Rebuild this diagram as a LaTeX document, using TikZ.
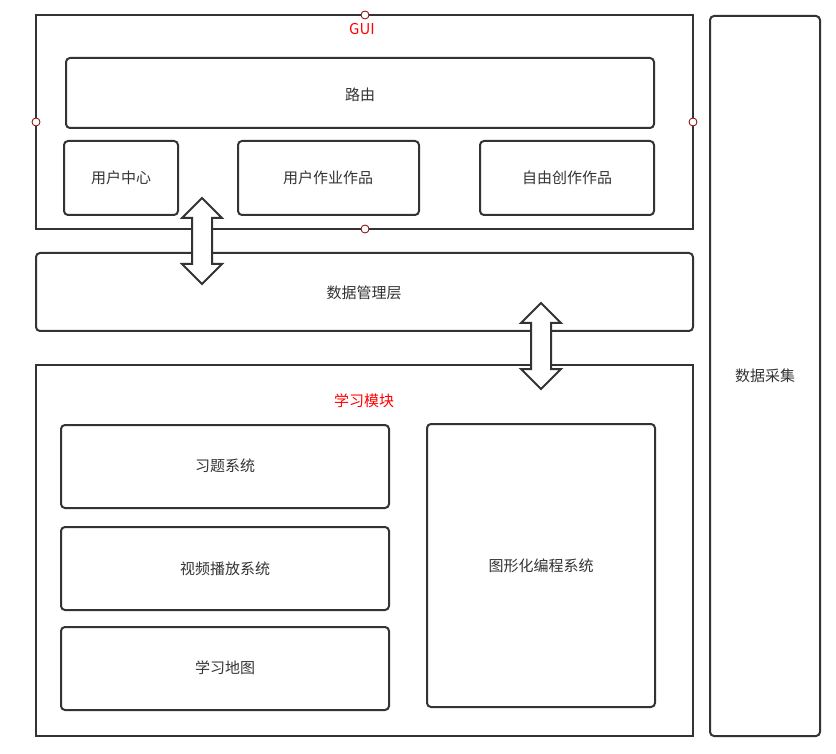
\documentclass[tikz,border=0pt]{standalone}
\usepackage{fontspec}
\setmainfont{Noto Sans CJK SC}
\begin{document}
\begin{tikzpicture}[x=1pt,y=-1pt,
  box/.style={draw=black!80,line width=2pt,rounded corners=4pt},
  sq/.style={draw=black!80,line width=2pt},
  lbl/.style={text=black!80,font=\fontsize{15}{17}\selectfont},
  red/.style={text=red,font=\fontsize{15}{17}\selectfont},
  dot/.style={draw=red!50!black,fill=white,circle,inner sep=0pt,minimum size=8pt,line width=0.8pt},
  dbl/.style={draw=black!80,line width=2pt,fill=white,line join=miter}]
\useasboundingbox (0,0) rectangle (836,754);
\draw[sq] (36,15) rectangle (693,229);
\node[red] (gui) at (362,29) {GUI};
\draw[box] (66,58) rectangle (654,128); \node[lbl] (lu) at (360,95) {路由};
\draw[box] (64,141) rectangle (178,215); \node[lbl] (yh) at (121,178) {用户中心};
\draw[box] (238,141) rectangle (419,215); \node[lbl] (zy) at (328,178) {用户作业作品};
\draw[box] (480,141) rectangle (654,215); \node[lbl] (zc) at (567,178) {自由创作作品};
\draw[box] (36,253) rectangle (693,331); \node[lbl] (sj) at (364,293) {数据管理层};
\draw[sq] (36,365) rectangle (693,736);
\node[red] (xx) at (364,401) {学习模块};
\draw[box] (61,425) rectangle (389,508); \node[lbl] (xt) at (225,466) {习题系统};
\draw[box] (61,527) rectangle (389,610); \node[lbl] (sp) at (225,569) {视频播放系统};
\draw[box] (61,627) rectangle (389,710); \node[lbl] (dt) at (225,668) {学习地图};
\draw[box] (427,424) rectangle (655,707); \node[lbl] (tx) at (541,566) {图形化编程系统};
\draw[box] (710,16) rectangle (820,736); \node[lbl] (cj) at (765,376) {数据采集};
\draw[dbl] (202,198) -- (222,218) -- (212,218) -- (212,264) -- (222,264) -- (202,284) -- (182,264) -- (192,264) -- (192,218) -- (182,218) -- cycle;
\draw[dbl] (541,303) -- (561,323) -- (551,323) -- (551,369) -- (561,369) -- (541,389) -- (521,369) -- (531,369) -- (531,323) -- (521,323) -- cycle;
\node[dot] at (365,15) {}; \node[dot] at (36,122) {};
\node[dot] at (693,122) {}; \node[dot] at (365,229) {};
\end{tikzpicture}
\end{document}
